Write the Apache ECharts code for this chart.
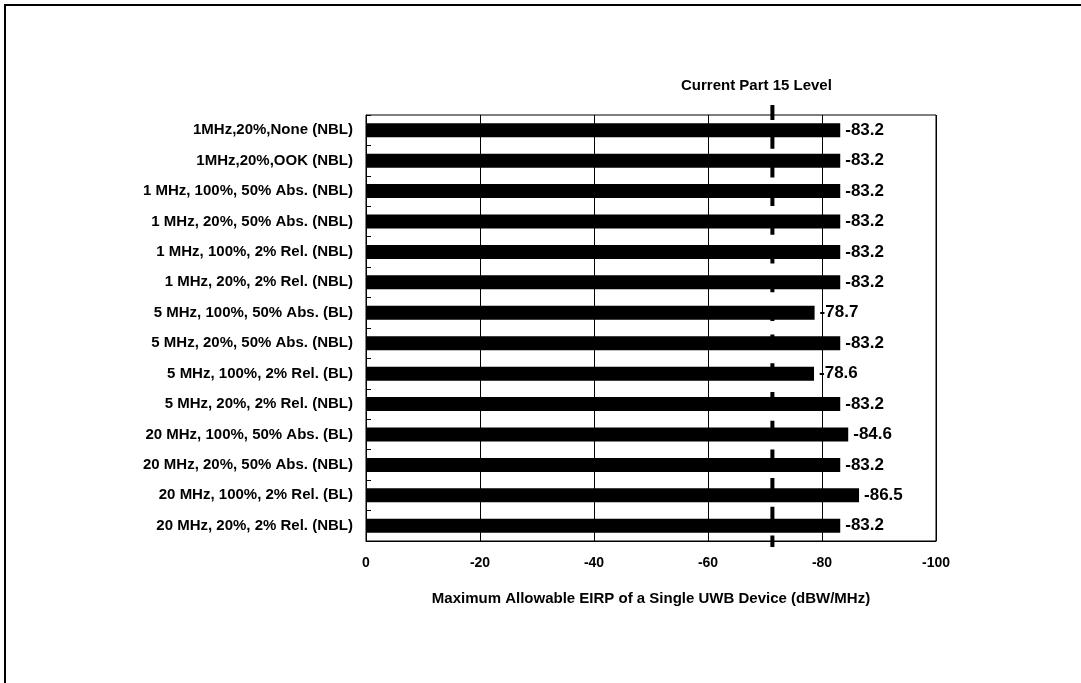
<!DOCTYPE html>
<html>
<head>
<meta charset="utf-8">
<script src="https://cdn.jsdelivr.net/npm/echarts@6/dist/echarts.min.js"></script>
<style>
  html, body { margin: 0; padding: 0; background: #fff; }
  #chart { width: 1081px; height: 683px; }
</style>
</head>
<body>
<div id="chart"></div>
<script>
const categories = [
  "1MHz,20%,None (NBL)",
  "1MHz,20%,OOK (NBL)",
  "1 MHz, 100%, 50% Abs. (NBL)",
  "1 MHz, 20%, 50% Abs. (NBL)",
  "1 MHz, 100%, 2% Rel. (NBL)",
  "1 MHz, 20%, 2% Rel. (NBL)",
  "5 MHz, 100%, 50% Abs. (BL)",
  "5 MHz, 20%, 50% Abs. (NBL)",
  "5 MHz, 100%, 2% Rel. (BL)",
  "5 MHz, 20%, 2% Rel. (NBL)",
  "20 MHz, 100%, 50% Abs. (BL)",
  "20 MHz, 20%, 50% Abs. (NBL)",
  "20 MHz, 100%, 2% Rel. (BL)",
  "20 MHz, 20%, 2% Rel. (NBL)"
];
const eirpValues = [-83.2, -83.2, -83.2, -83.2, -83.2, -83.2, -78.7, -83.2, -78.6, -83.2, -84.6, -83.2, -86.5, -83.2];
const part15Level = -71.3;
const part15Label = "Current Part 15 Level";
const axisTitle = "Maximum Allowable EIRP of a Single UWB Device (dBW/MHz)";
const xMin = -100, xMax = 0, xInterval = 20;

const FONT = "'Liberation Sans', Arial, sans-serif";
const chart = echarts.init(document.getElementById('chart'), null, { renderer: 'canvas' });

chart.setOption({
  backgroundColor: '#fff',
  animation: false,
  graphic: [{
    type: 'polyline',
    shape: { points: [[5, 683], [5, 5], [1081, 5]] },
    style: { stroke: '#000', lineWidth: 2, fill: null },
    silent: true
  }],
  grid: {
    left: 366, top: 115, width: 570, height: 426,
    show: true, borderColor: '#000', borderWidth: 1, backgroundColor: 'transparent'
  },
  xAxis: {
    type: 'value',
    min: xMin, max: xMax, interval: xInterval,
    inverse: true,
    axisLine: { show: true, lineStyle: { color: '#000', width: 1 } },
    axisTick: { show: false },
    splitLine: { show: true, lineStyle: { color: '#000', width: 1 } },
    axisLabel: { color: '#000', fontFamily: FONT, fontWeight: 'bold', fontSize: 14, margin: 15 },
    name: axisTitle,
    nameLocation: 'middle',
    nameGap: 50,
    nameTextStyle: { color: '#000', fontFamily: FONT, fontWeight: 'bold', fontSize: 15 }
  },
  yAxis: {
    type: 'category',
    data: categories,
    inverse: true,
    axisLine: { show: true, lineStyle: { color: '#000', width: 1 } },
    axisTick: { show: true, inside: true, length: 5, lineStyle: { color: '#000' } },
    splitLine: { show: false },
    axisLabel: { color: '#000', fontFamily: FONT, fontWeight: 'bold', fontSize: 15, margin: 13 }
  },
  series: [
    {
      type: 'custom',
      z: 1,
      clip: false,
      data: [[part15Level, 0]],
      renderItem: function (params, api) {
        const x = api.coord([api.value(0), 0])[0];
        const cs = params.coordSys;
        return {
          type: 'group',
          children: [
            {
              type: 'line',
              shape: { x1: x, y1: cs.y - 10, x2: x, y2: cs.y + cs.height + 6 },
              style: { stroke: '#000', lineWidth: 4, lineDash: [15, 13.7] }
            },
            {
              type: 'text',
              style: {
                x: x - 16, y: cs.y - 29,
                text: part15Label,
                fill: '#000',
                font: 'bold 15px ' + FONT,
                textAlign: 'center', textVerticalAlign: 'middle'
              }
            }
          ]
        };
      }
    },
    {
      type: 'bar',
      z: 2,
      data: eirpValues,
      barWidth: 14,
      itemStyle: { color: '#000' },
      label: {
        show: true,
        position: 'right',
        distance: 5,
        color: '#000',
        fontFamily: FONT,
        fontWeight: 'bold',
        fontSize: 17,
        formatter: function (p) { return p.value.toFixed(1); }
      }
    }
  ]
});
</script>
</body>
</html>
